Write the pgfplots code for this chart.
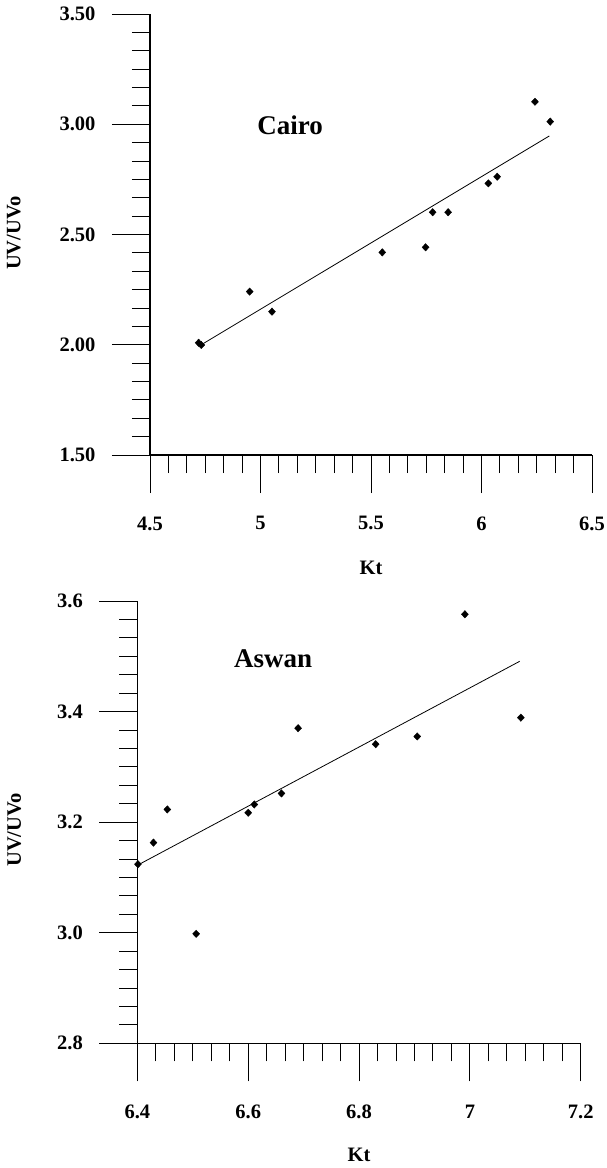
\documentclass[border=0pt]{standalone}
\usepackage{fontspec}
\setmainfont{Liberation Serif}
\usepackage{pgfplots}
\pgfplotsset{compat=1.18}
\begin{document}
\begin{tikzpicture}[x=1pt,y=1pt]
\path[use as bounding box] (0,0) rectangle (607,-1168);
\pgfplotsset{
  myax/.style={
    scale only axis, clip=false,
    axis x line=bottom, axis y line=left,
    axis line style={-, line width=1.2pt},
    tick align=outside,
    major tick length=38pt, minor tick length=18pt,
    every tick/.style={black, line width=0.9pt},
    minor tick num=5,
    /pgf/number format/assume math mode=true,
    tick label style={font=\fontsize{20.5}{24}\selectfont\bfseries},
    label style={font=\fontsize{20.5}{24}\selectfont\bfseries},
    xticklabel shift=20pt,
    yticklabel shift=13pt,
    every axis plot/.append style={black},
  },
  mk/.style={only marks, mark=diamond*, mark size=3.7pt, every mark/.append style={xscale=1.25}},
  ln/.style={no marks, line width=0.8pt},
}
% ---------- Cairo ----------
\begin{axis}[myax,
  at={(150pt,-455pt)}, anchor=south west,
  width=442pt, height=441pt,
  xmin=4.5, xmax=6.5, ymin=1.5, ymax=3.5,
  xtick={4.5,5,5.5,6,6.5},
  ytick={1.5,2,2.5,3,3.5},
  yticklabels={1.50,2.00,2.50,3.00,3.50},
  xlabel={Kt}, ylabel={UV/UVo},
  xlabel style={at={(axis description cs:0.5,-0.256)}, anchor=center},
  ylabel style={at={(axis description cs:-0.308,0.503)}, anchor=center, rotate=0},
]
\addplot[mk] coordinates {
(6.242,3.102) (6.311,3.012) (6.071,2.762) (6.031,2.732) (5.779,2.601) (5.849,2.601)
(5.747,2.442) (5.551,2.419) (4.951,2.241) (5.052,2.150) (4.720,2.009) (4.732,1.999)};
\addplot[ln] coordinates {(4.732,2.000) (6.307,2.947)};
\node[font=\fontsize{27}{32}\selectfont\bfseries] at (axis description cs:0.317,0.748) {Cairo};
\end{axis}
% ---------- Aswan ----------
\begin{axis}[myax,
  at={(137.4pt,-1043.3pt)}, anchor=south west,
  width=443.3pt, height=442.3pt,
  xmin=6.4, xmax=7.2, ymin=2.8, ymax=3.6,
  xtick={6.4,6.6,6.8,7,7.2},
  ytick={2.8,3.0,3.2,3.4,3.6},
  yticklabels={2.8,3.0,3.2,3.4,3.6},
  xlabel={Kt}, ylabel={UV/UVo},
  xlabel style={at={(axis description cs:0.5,-0.2525)}, anchor=center},
  ylabel style={at={(axis description cs:-0.278,0.482)}, anchor=center, rotate=0},
]
\addplot[mk] coordinates {
(6.991,3.576) (7.092,3.389) (6.690,3.370) (6.830,3.341) (6.905,3.355) (6.660,3.252)
(6.611,3.232) (6.600,3.217) (6.454,3.223) (6.429,3.163) (6.401,3.124) (6.506,2.998)};
\addplot[ln] coordinates {(6.400,3.122) (7.090,3.491)};
\node[font=\fontsize{27}{32}\selectfont\bfseries] at (axis description cs:0.306,0.869) {Aswan};
\end{axis}
\end{tikzpicture}
\end{document}
